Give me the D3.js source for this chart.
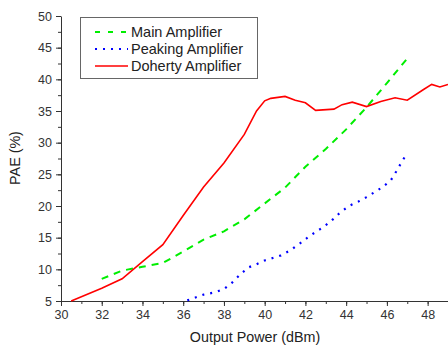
<!DOCTYPE html>
<html>
<head>
<meta charset="utf-8">
<script src="https://cdn.jsdelivr.net/npm/d3@7"></script>
<style>
  body { margin: 0; background: #fff; }
  svg { display: block; font-family: "Liberation Sans", Arial, sans-serif; }
</style>
</head>
<body>
<svg id="chart" width="448" height="345"></svg>
<script>
// PAE vs output power
var mainX = [32, 33, 34, 35, 36, 37, 38, 39, 40, 41, 42, 43, 44, 45, 46, 47];
var mainY = [8.5, 9.8, 10.4, 11.0, 12.8, 14.7, 16.0, 17.9, 20.4, 22.9, 26.2, 29.0, 32.1, 35.6, 39.4, 43.3];

var peakX = [36.2, 37, 37.6, 38, 38.4, 38.8, 39.2, 39.6, 40, 40.4, 40.8, 41.25, 41.7, 42.1, 42.5, 42.9, 43.35, 43.75, 44.2, 44.6, 45, 45.4, 45.8, 46.2, 46.45, 46.7, 47];
var peakY = [5.1, 6.0, 6.4, 6.9, 7.9, 9.2, 10.3, 10.8, 11.4, 11.8, 12.2, 13.0, 14.0, 15.0, 15.9, 16.7, 17.9, 19.1, 20.1, 20.7, 21.4, 22.2, 23.0, 24.1, 25.4, 26.8, 28.4];

var dohX = [30.5, 32, 33, 34, 35, 36, 37, 38, 39, 39.6, 40, 40.3, 41, 41.5, 42, 42.5, 43.4, 43.8, 44.3, 45, 45.7, 46.4, 47, 47.8, 48.2, 48.6, 49];
var dohY = [5, 7, 8.5, 11.2, 13.9, 18.5, 23, 26.8, 31.3, 35, 36.6, 37.0, 37.3, 36.7, 36.3, 35.1, 35.3, 36.0, 36.4, 35.7, 36.5, 37.1, 36.7, 38.4, 39.2, 38.8, 39.2];

var seriesNames = ["Main Amplifier", "Peaking Amplifier", "Doherty Amplifier"];
var xTicks = [30, 32, 34, 36, 38, 40, 42, 44, 46, 48];
var yTicks = [5, 10, 15, 20, 25, 30, 35, 40, 45, 50];

var svg = d3.select("#chart");
var x = d3.scaleLinear().domain([30, 49]).range([61, 448]);
var y = d3.scaleLinear().domain([5, 50]).range([301, 16]);

var series = [
  { name: seriesNames[0], xs: mainX, ys: mainY, color: "#00ee00", width: 2, dash: "7,6" },
  { name: seriesNames[1], xs: peakX, ys: peakY, color: "#0000ff", width: 2.2, dash: "2,6" },
  { name: seriesNames[2], xs: dohX, ys: dohY, color: "#ff0000", width: 1.6, dash: null }
];

// minor ticks
svg.append("g")
  .attr("transform", "translate(0,301)")
  .call(d3.axisBottom(x).tickValues(d3.range(30, 50, 1)).tickSize(3).tickFormat(""))
  .call(function(g){ g.select(".domain").remove(); });
svg.append("g")
  .attr("transform", "translate(61,0)")
  .call(d3.axisLeft(y).tickValues(d3.range(5, 50.1, 2.5)).tickSize(3).tickFormat(""))
  .call(function(g){ g.select(".domain").remove(); });

// major axes
svg.append("g")
  .attr("transform", "translate(0,301)")
  .call(d3.axisBottom(x).tickValues(xTicks).tickSize(5).tickSizeOuter(0).tickPadding(4));
svg.append("g")
  .attr("transform", "translate(61,0)")
  .call(d3.axisLeft(y).tickValues(yTicks).tickSize(5).tickSizeOuter(0).tickPadding(4));

svg.selectAll(".tick line, .domain").attr("stroke", "#333");
svg.selectAll(".tick text").attr("fill", "#333").style("font-size", "12.5px")
  .style("font-family", "'Liberation Sans', Arial, sans-serif");

// axis titles
svg.append("text")
  .attr("x", 255).attr("y", 342)
  .attr("text-anchor", "middle")
  .attr("fill", "#222")
  .style("font-size", "14.3px")
  .text("Output Power (dBm)");
svg.append("text")
  .attr("transform", "translate(20,158) rotate(-90)")
  .attr("text-anchor", "middle")
  .attr("fill", "#222")
  .style("font-size", "14.3px")
  .text("PAE (%)");

// curves
var line = d3.line()
  .x(function(d){ return x(d[0]); })
  .y(function(d){ return y(d[1]); });

series.forEach(function(s){
  var pts = s.xs.map(function(v, i){ return [v, s.ys[i]]; });
  svg.append("path")
    .datum(pts)
    .attr("d", line)
    .attr("fill", "none")
    .attr("stroke", s.color)
    .attr("stroke-width", s.width)
    .attr("stroke-dasharray", s.dash);
});

// legend
var lg = svg.append("g");
lg.append("rect")
  .attr("x", 80.5).attr("y", 17.5).attr("width", 177).attr("height", 61)
  .attr("fill", "#fff").attr("stroke", "#666").attr("stroke-width", 1);
series.forEach(function(s, i){
  var yy = 32 + i * 17;
  lg.append("line")
    .attr("x1", 95).attr("x2", 128).attr("y1", yy).attr("y2", yy)
    .attr("stroke", s.color).attr("stroke-width", s.width)
    .attr("stroke-dasharray", i == 0 ? "5,8" : s.dash);
  lg.append("text")
    .attr("x", 131).attr("y", yy + 5)
    .attr("fill", "#222")
    .style("font-size", "14.5px")
    .text(s.name);
});
</script>
</body>
</html>
